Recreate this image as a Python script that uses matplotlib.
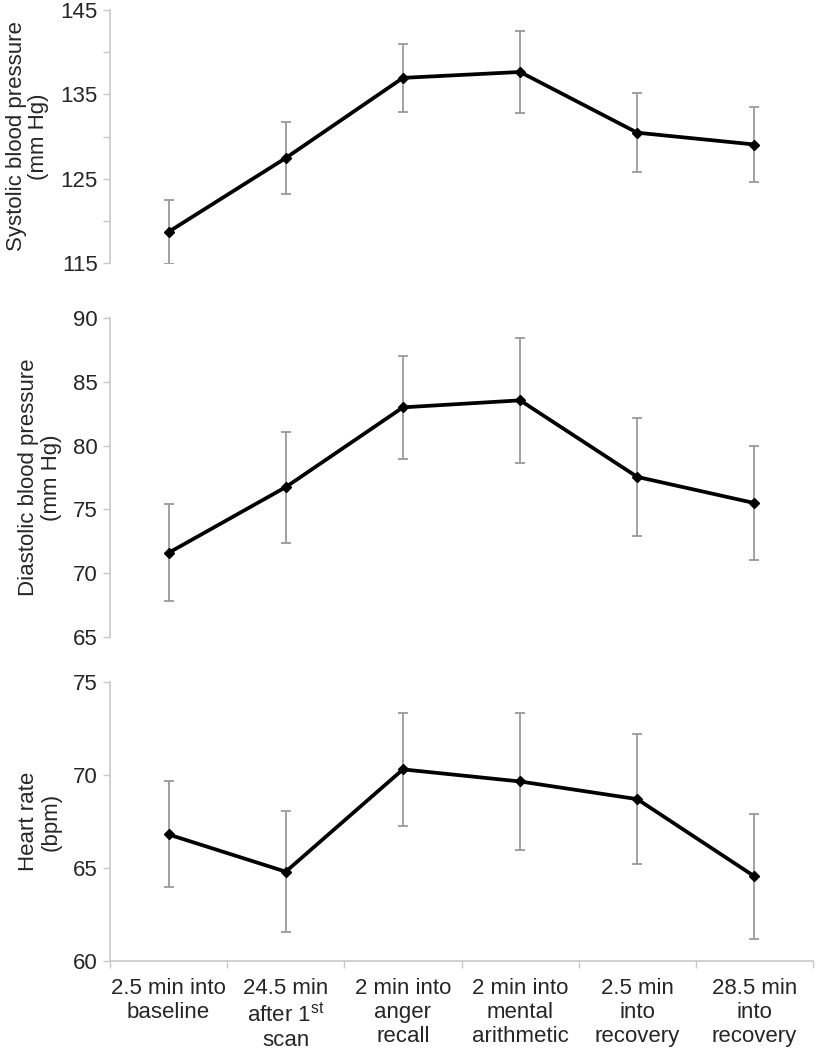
import matplotlib.pyplot as plt
import numpy as np

plt.rcParams['font.family'] = ['Liberation Sans', 'DejaVu Sans']
plt.rcParams['mathtext.fontset'] = 'custom'
plt.rcParams['mathtext.rm'] = 'Liberation Sans'

categories = ["2.5 min into\nbaseline",
              "24.5 min\nafter 1$^{\\mathrm{st}}$\nscan",
              "2 min into\nanger\nrecall",
              "2 min into\nmental\narithmetic",
              "2.5 min\ninto\nrecovery",
              "28.5 min\ninto\nrecovery"]

sbp = [118.7, 127.45, 136.95, 137.65, 130.45, 129.05]
sbp_err = [3.8, 4.25, 4.05, 4.9, 4.7, 4.45]

dbp = [71.6, 76.75, 83.0, 83.55, 77.55, 75.5]
dbp_err = [3.8, 4.35, 4.05, 4.9, 4.65, 4.45]

hr = [66.8, 64.8, 70.3, 69.65, 68.7, 64.55]
hr_err = [2.85, 3.25, 3.05, 3.7, 3.5, 3.35]

panels = [
    (sbp, sbp_err, "Systolic blood pressure\n(mm Hg)", (115, 145), [115, 125, 135, 145]),
    (dbp, dbp_err, "Diastolic blood pressure\n(mm Hg)", (65, 90), [65, 70, 75, 80, 85, 90]),
    (hr, hr_err, "Heart rate\n(bpm)", (60, 75), [60, 65, 70, 75]),
]

# axes boxes in figure fractions (left, bottom, width, height)
boxes = [(0.1345, 0.7495, 0.8594, 0.241),
         (0.1345, 0.3933, 0.8594, 0.3038),
         (0.1345, 0.0848, 0.8594, 0.2657)]

fig = plt.figure(figsize=(8.18, 10.5), dpi=100)
x = np.arange(len(categories))
axis_gray = '#c8c8c8'
text_col = '#262626'

for i, (vals, errs, label, lim, labeled) in enumerate(panels):
    ax = fig.add_axes(boxes[i])
    ax.errorbar(x, vals, yerr=errs, fmt='none', ecolor='#9a9a9a',
                elinewidth=1.3, capsize=3.5, capthick=1.3, zorder=1)
    ax.plot(x, vals, color='black', linewidth=2.7, marker='D',
            markersize=5.5, zorder=2)

    ax.set_xlim(-0.5, len(categories) - 0.5)
    ax.set_ylim(*lim)
    ticks = np.arange(lim[0], lim[1] + 1, 5)
    ax.set_yticks(ticks)
    ax.set_yticklabels([str(t) if t in labeled else "" for t in ticks])
    ax.tick_params(axis='y', direction='out', length=5, width=1,
                   color=axis_gray, labelsize=16, labelcolor=text_col, pad=4)

    for s in ['top', 'right']:
        ax.spines[s].set_visible(False)
    ax.spines['left'].set_color(axis_gray)
    ax.spines['left'].set_linewidth(1.2)

    ax.set_ylabel(label, fontsize=16, color=text_col, labelpad=8,
                  linespacing=1.1)

    if i < 2:
        ax.spines['bottom'].set_visible(False)
        ax.set_xticks([])
    else:
        ax.spines['bottom'].set_color(axis_gray)
        ax.spines['bottom'].set_linewidth(1.2)
        ax.set_xticks(x)
        ax.set_xticklabels(categories, fontsize=16, color=text_col,
                           va='top', linespacing=1.2)
        ax.set_xticks(np.arange(-0.5, len(categories), 1), minor=True)
        ax.tick_params(axis='x', which='major', length=0, pad=12)
        ax.tick_params(axis='x', which='minor', direction='out', length=5,
                       width=1, color=axis_gray)

fig.savefig("out.png", dpi=100)
